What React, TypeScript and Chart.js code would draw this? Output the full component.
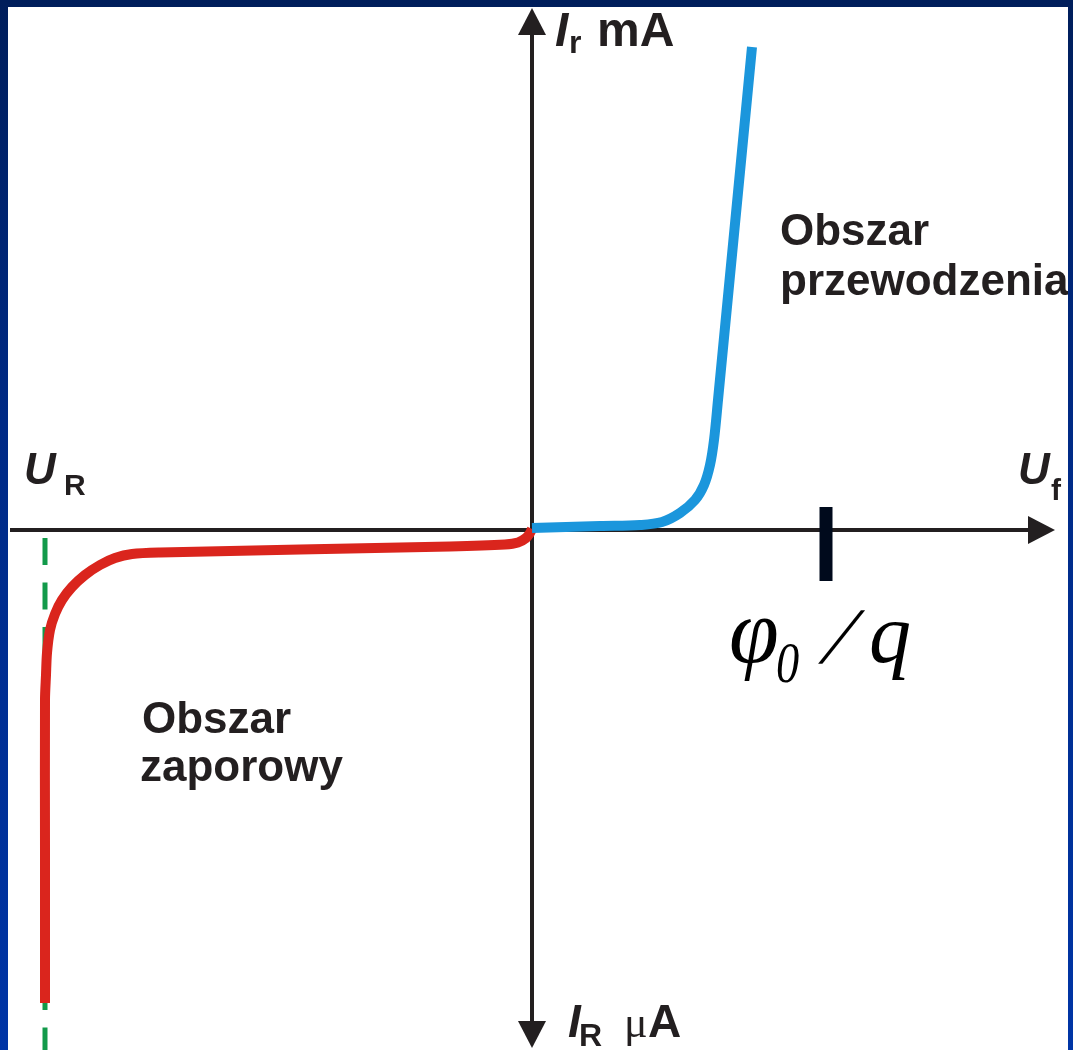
import React, { useEffect, useRef } from "react";
import { Chart, registerables } from "chart.js";

Chart.register(...registerables);

// Reverse-bias branch (U < 0, I < 0), arbitrary units
const reverseU = [-4.87, -4.87, -4.87, -4.86, -4.85, -4.82, -4.77, -4.7, -4.6, -4.47, -4.32, -4.17, -4.0, -3.72, -2.32, -0.82, -0.27, -0.14, -0.06, -0.02, 0];
const reverseI = [-4.73, -3.2, -1.7, -1.45, -1.23, -1.0, -0.84, -0.7, -0.57, -0.45, -0.35, -0.28, -0.24, -0.225, -0.195, -0.165, -0.145, -0.125, -0.08, -0.03, 0.01];

// Forward-bias branch (U > 0, I > 0)
const forwardU = [0, 0.68, 1.08, 1.3, 1.48, 1.63, 1.72, 1.78, 1.82, 1.86, 2.2];
const forwardI = [0.02, 0.04, 0.05, 0.08, 0.17, 0.3, 0.45, 0.65, 0.9, 1.3, 4.83];

// Breakdown voltage guide (dashed)
const breakdownU = [-4.87, -4.87];
const breakdownI = [-0.08, -5.3];

// Built-in potential marker φ0/q
const phiU = [2.94, 2.94];
const phiI = [0.23, -0.51];

const X_RANGE = [-5.24, 5.36];
const Y_RANGE = [-5.2, 5.23];

const regionLabels = {
  forward: ["Obszar", "przewodzenia"],
  reverse: ["Obszar", "zaporowy"],
};

const toXY = (xs: number[], ys: number[]) => xs.map((x, i) => ({ x, y: ys[i] }));

const OFF_X = 8;
const OFF_Y = 7;

const axesPlugin = {
  id: "crossAxes",
  beforeDatasetsDraw(chart: any) {
    const ctx = chart.ctx as CanvasRenderingContext2D;
    const x0 = chart.scales.x.getPixelForValue(0);
    const y0 = chart.scales.y.getPixelForValue(0);
    ctx.save();
    ctx.strokeStyle = "#231f20";
    ctx.fillStyle = "#231f20";
    ctx.lineWidth = 4;
    // horizontal axis
    const rightTip = 1055 - OFF_X;
    ctx.beginPath();
    ctx.moveTo(2, y0);
    ctx.lineTo(rightTip - 20, y0);
    ctx.stroke();
    ctx.beginPath();
    ctx.moveTo(rightTip, y0);
    ctx.lineTo(rightTip - 27, y0 - 14);
    ctx.lineTo(rightTip - 27, y0 + 14);
    ctx.closePath();
    ctx.fill();
    // vertical axis
    const topTip = 8 - OFF_Y;
    const botTip = 1048 - OFF_Y;
    ctx.beginPath();
    ctx.moveTo(x0, topTip + 20);
    ctx.lineTo(x0, botTip - 20);
    ctx.stroke();
    ctx.beginPath();
    ctx.moveTo(x0, topTip);
    ctx.lineTo(x0 - 14, topTip + 27);
    ctx.lineTo(x0 + 14, topTip + 27);
    ctx.closePath();
    ctx.fill();
    ctx.beginPath();
    ctx.moveTo(x0, botTip);
    ctx.lineTo(x0 - 14, botTip - 27);
    ctx.lineTo(x0 + 14, botTip - 27);
    ctx.closePath();
    ctx.fill();
    ctx.restore();
  },
  afterDatasetsDraw(chart: any) {
    const ctx = chart.ctx as CanvasRenderingContext2D;
    const t = (s: string, px: number, py: number, font: string, sx = 1, skew = 0) => {
      ctx.save();
      ctx.font = font;
      ctx.translate(px - OFF_X, py - OFF_Y);
      ctx.transform(sx, 0, -skew, 1, 0, 0);
      ctx.fillText(s, 0, 0);
      ctx.restore();
    };
    ctx.save();
    ctx.fillStyle = "#231f20";
    ctx.textBaseline = "alphabetic";
    ctx.textAlign = "left";
    const sans = "'Liberation Sans', Arial, sans-serif";
    const serif = "'Liberation Serif', 'Times New Roman', serif";
    // region labels
    t(regionLabels.forward[0], 780, 245, `bold 44px ${sans}`);
    t(regionLabels.forward[1], 780, 295, `bold 44px ${sans}`);
    t(regionLabels.reverse[0], 142, 733, `bold 44px ${sans}`);
    t(regionLabels.reverse[1], 140, 781, `bold 44px ${sans}`);
    // axis labels
    t("U", 24, 484, `italic bold 44px ${sans}`);
    t("R", 64, 495, `bold 30px ${sans}`);
    t("U", 1018, 484, `italic bold 44px ${sans}`);
    t("f", 1051, 500, `bold 30px ${sans}`);
    t("I", 555, 46, `italic bold 48px ${sans}`);
    t("r", 569, 53, `bold 32px ${sans}`);
    t("mA", 597, 46, `bold 48px ${sans}`);
    t("I", 568, 1037, `italic bold 46px ${sans}`);
    t("R", 579, 1046, `bold 32px ${sans}`);
    t("\u03bc", 624, 1037, `44px ${serif}`);
    t("A", 648, 1037, `bold 46px ${sans}`);
    // φ0 / q
    ctx.fillStyle = "#000";
    t("\u03c6", 729, 662, `italic 90px ${serif}`);
    t("0", 776, 682, `italic 58px ${serif}`, 0.8);
    t("/", 822, 663, `italic 80px ${serif}`, 1, 0.28);
    t("q", 869, 662, `italic 84px ${serif}`);
    ctx.restore();
  },
};

export default function App() {
  const ref = useRef<HTMLCanvasElement>(null);
  useEffect(() => {
    if (!ref.current) return;
    const chart = new Chart(ref.current, {
      type: "scatter",
      data: {
        datasets: [
          {
            label: "phi0/q",
            data: toXY(phiU, phiI),
            showLine: true,
            borderColor: "#000a1c",
            borderWidth: 13,
            borderCapStyle: "butt",
            pointRadius: 0,
          },
          {
            label: "forward",
            data: toXY(forwardU, forwardI),
            showLine: true,
            borderColor: "#1b96dc",
            borderWidth: 10,
            tension: 0.35,
            borderCapStyle: "butt",
            borderJoinStyle: "round",
            pointRadius: 0,
          },
          {
            label: "reverse",
            data: toXY(reverseU, reverseI),
            showLine: true,
            borderColor: "#da251d",
            borderWidth: 10,
            tension: 0.3,
            borderCapStyle: "butt",
            borderJoinStyle: "round",
            pointRadius: 0,
          },
          {
            label: "breakdown",
            data: toXY(breakdownU, breakdownI),
            showLine: true,
            borderColor: "#129a4a",
            borderWidth: 5,
            borderDash: [27, 17.5],
            borderCapStyle: "butt",
            pointRadius: 0,
          },
        ],
      } as any,
      options: {
        animation: false,
        responsive: false,
        maintainAspectRatio: false,
        layout: { padding: 0 },
        plugins: { legend: { display: false }, tooltip: { enabled: false } },
        scales: {
          x: { type: "linear", min: X_RANGE[0], max: X_RANGE[1], display: false },
          y: { type: "linear", min: Y_RANGE[0], max: Y_RANGE[1], display: false },
        },
      } as any,
      plugins: [axesPlugin],
    });
    return () => chart.destroy();
  }, []);

  return (
    <div
      style={{
        position: "absolute",
        left: 0,
        top: 0,
        width: 1073,
        height: 1050,
        overflow: "hidden",
        background: "linear-gradient(to bottom, #001e5b 0%, #002a85 40%, #0035a6 100%)",
      }}
    >
      <div
        style={{
          position: "absolute",
          left: OFF_X,
          top: OFF_Y,
          width: 1060,
          height: 1043,
          background: "#ffffff",
        }}
      >
        <canvas ref={ref} width={1060} height={1043} style={{ display: "block", width: 1060, height: 1043 }} />
      </div>
    </div>
  );
}
